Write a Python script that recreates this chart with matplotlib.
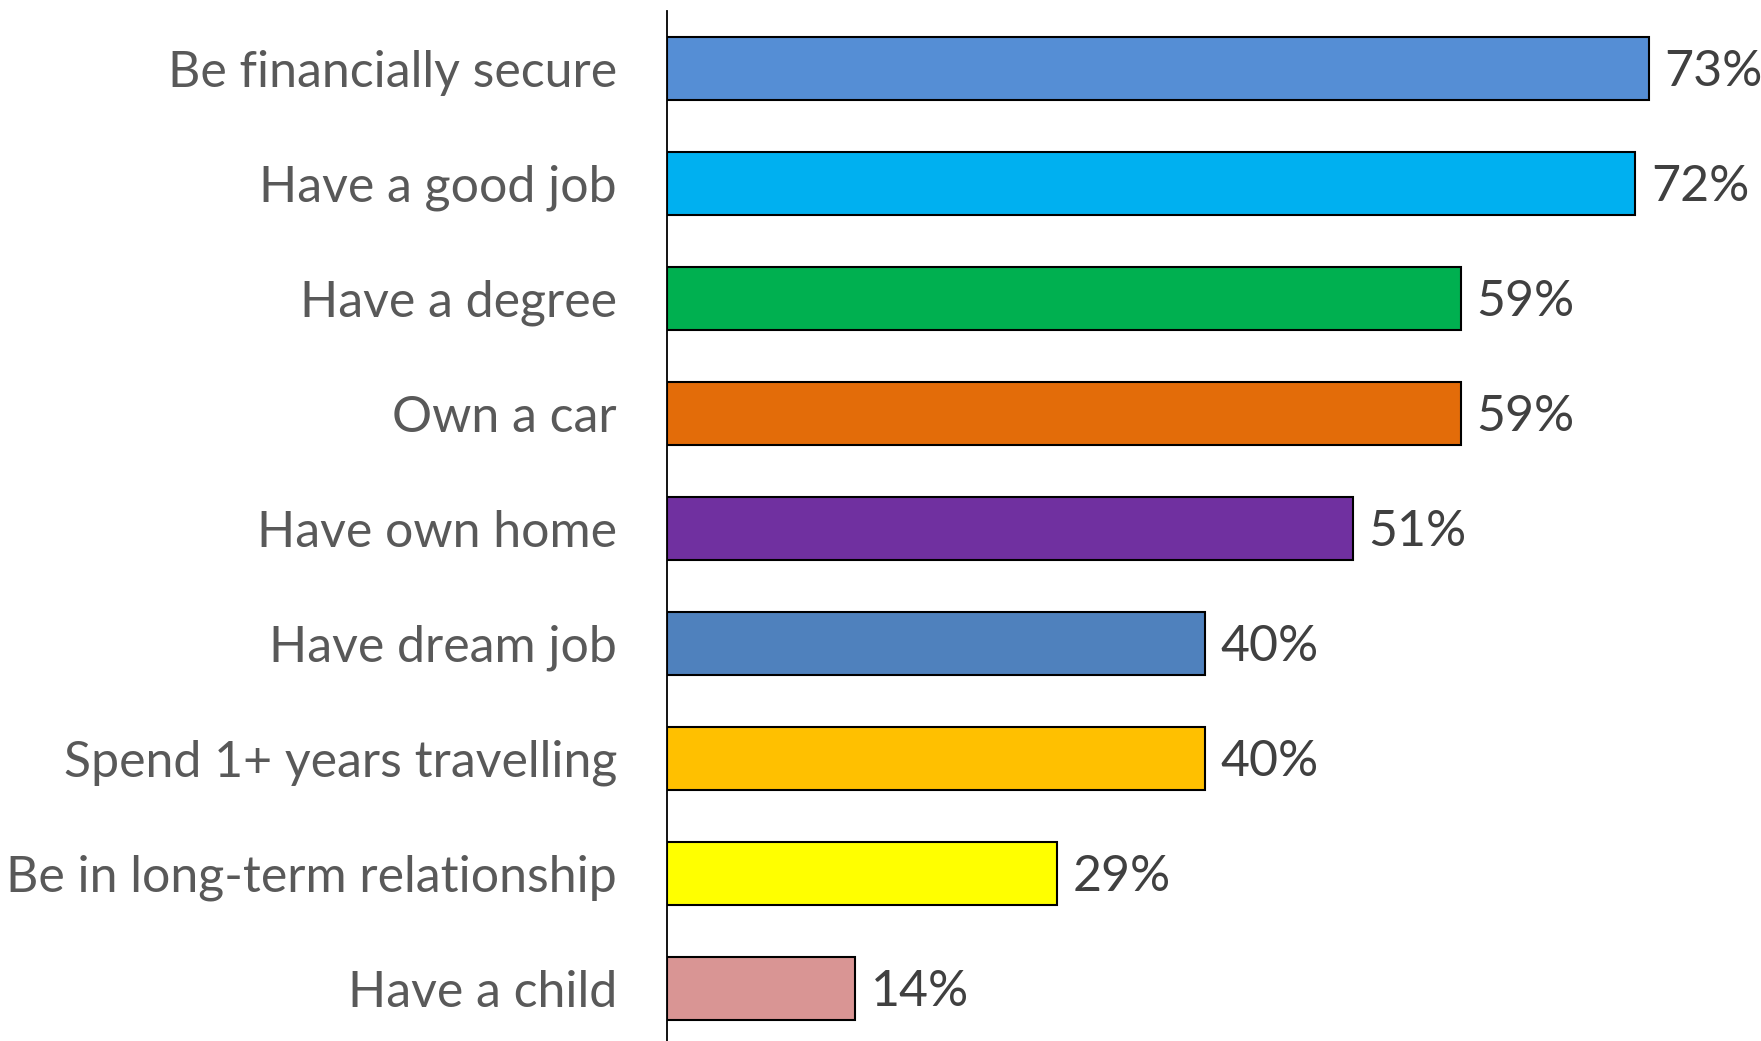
import matplotlib
matplotlib.use("Agg")
import matplotlib.pyplot as plt

categories = ["Be financially secure", "Have a good job", "Have a degree", "Own a car",
              "Have own home", "Have dream job", "Spend 1+ years travelling",
              "Be in long-term relationship", "Have a child"]
values = [73, 72, 59, 59, 51, 40, 40, 29, 14]
colors = ["#558ED5", "#00B0F0", "#00B050", "#E36C09", "#7030A0", "#4F81BD",
          "#FFC000", "#FFFF00", "#D99594"]

W, H = 1761, 1041
fig = plt.figure(figsize=(W / 100, H / 100), dpi=100)
left = 667 / W
top = 11 / H
ax = fig.add_axes([left, 0, 1 - left, 1 - top])

y = list(range(len(categories)))
ax.barh(y, values, height=0.55, color=colors, edgecolor="black", linewidth=1.5)
ax.set_ylim(8.457, -0.498)
ax.set_xlim(0, (W - 667) / 13.45)

for i, v in enumerate(values):
    ax.text(v + 1.15, i + 0.03, f"{v}%", va="center", ha="left", fontsize=36,
            color="#404040", family="Lato")

ax.set_yticks(y)
ax.set_yticklabels(categories, fontsize=36, color="#595959", family="Lato")
ax.tick_params(axis="y", length=0, pad=36)
ax.set_xticks([])
for s in ["top", "right", "bottom"]:
    ax.spines[s].set_visible(False)
ax.spines["left"].set_linewidth(1.3)
ax.spines["left"].set_color("black")

fig.savefig("out.png", dpi=100, facecolor="white")
